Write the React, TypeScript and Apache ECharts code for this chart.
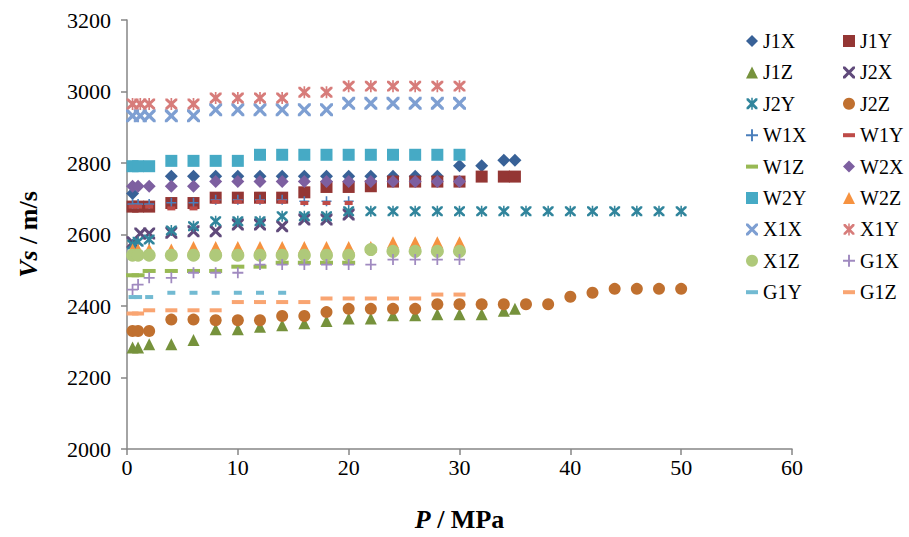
import React, { useEffect, useRef } from "react";
import * as echarts from "echarts";

// ---------- data ----------
const J1X_P = [0.5, 4, 6, 8, 10, 12, 14, 16, 18, 20, 22, 24, 26, 28, 30, 32, 34, 35];
const J1X_V = [2715, 2763, 2763, 2763, 2763, 2763, 2763, 2763, 2763, 2763, 2763, 2763, 2763, 2763, 2792, 2792, 2808, 2808];

const J1Y_P = [0.5, 1, 2, 4, 6, 8, 10, 12, 14, 16, 18, 20, 22, 24, 26, 28, 30, 32, 34, 35];
const J1Y_V = [2678, 2678, 2678, 2688, 2688, 2703, 2703, 2703, 2703, 2718, 2733, 2733, 2735, 2748, 2748, 2748, 2748, 2762, 2762, 2762];

const J1Z_P = [0.5, 1, 2, 4, 6, 8, 10, 12, 14, 16, 18, 20, 22, 24, 26, 28, 30, 32, 34, 35];
const J1Z_V = [2284, 2284, 2293, 2293, 2305, 2335, 2335, 2342, 2346, 2352, 2358, 2365, 2365, 2374, 2374, 2377, 2377, 2377, 2387, 2392];

const J2X_P = [0.5, 1.2, 2, 4, 6, 8, 10, 12, 14, 16, 18, 20];
const J2X_V = [2578, 2603, 2603, 2605, 2609, 2609, 2628, 2628, 2623, 2642, 2642, 2656];

const J2Y_P = [0.5, 1, 2, 4, 6, 8, 10, 12, 14, 16, 18, 20, 22, 24, 26, 28, 30, 32, 34, 36, 38, 40, 42, 44, 46, 48, 50];
const J2Y_V = [2572, 2580, 2586, 2611, 2623, 2637, 2637, 2637, 2651, 2651, 2651, 2665, 2665, 2665, 2665, 2665, 2665, 2665, 2665, 2665, 2665, 2665, 2665, 2665, 2665, 2665, 2665];

const J2Z_P = [0.5, 1, 2, 4, 6, 8, 10, 12, 14, 16, 18, 20, 22, 24, 26, 28, 30, 32, 34, 36, 38, 40, 42, 44, 46, 48, 50];
const J2Z_V = [2330, 2330, 2330, 2362, 2362, 2360, 2360, 2360, 2372, 2372, 2383, 2392, 2392, 2392, 2392, 2405, 2405, 2405, 2405, 2405, 2405, 2426, 2437, 2448, 2448, 2448, 2448];

const W1X_P = [0.5, 1, 2, 4, 6, 8, 10, 12, 14, 16, 18, 20];
const W1X_V = [2685, 2685, 2685, 2689, 2689, 2697, 2697, 2697, 2697, 2693, 2693, 2693];

const W1Y_P = [0.5, 1, 2, 4, 6, 8, 10, 12, 14, 16, 18, 20];
const W1Y_V = [2678, 2678, 2678, 2673, 2673, 2692, 2692, 2692, 2692, 2688, 2688, 2688];

const W1Z_P = [0.5, 1, 2, 4, 6, 8, 10, 12, 14, 16, 18, 20];
const W1Z_V = [2486, 2486, 2498, 2498, 2498, 2498, 2510, 2510, 2521, 2521, 2521, 2521];

const W2X_P = [0.5, 1, 2, 4, 6, 8, 10, 12, 14, 16, 18, 20, 22, 24, 26, 28, 30];
const W2X_V = [2735, 2735, 2735, 2735, 2735, 2748, 2748, 2748, 2748, 2748, 2748, 2748, 2748, 2748, 2748, 2748, 2748];

const W2Y_P = [0.5, 1, 2, 4, 6, 8, 10, 12, 14, 16, 18, 20, 22, 24, 26, 28, 30];
const W2Y_V = [2791, 2791, 2791, 2806, 2806, 2806, 2806, 2823, 2823, 2823, 2823, 2823, 2823, 2823, 2823, 2823, 2823];

const W2Z_P = [0.5, 1, 2, 4, 6, 8, 10, 12, 14, 16, 18, 20, 22, 24, 26, 28, 30];
const W2Z_V = [2558, 2558, 2558, 2558, 2565, 2565, 2565, 2565, 2565, 2565, 2565, 2565, 2565, 2578, 2578, 2578, 2578];

const X1X_P = [0.5, 1.2, 2, 4, 6, 8, 10, 12, 14, 16, 18, 20, 22, 24, 26, 28, 30];
const X1X_V = [2932, 2932, 2932, 2932, 2932, 2949, 2949, 2949, 2949, 2949, 2949, 2967, 2967, 2967, 2967, 2967, 2967];

const X1Y_P = [0.5, 1.2, 2, 4, 6, 8, 10, 12, 14, 16, 18, 20, 22, 24, 26, 28, 30];
const X1Y_V = [2965, 2965, 2965, 2965, 2965, 2982, 2982, 2982, 2982, 2998, 2998, 3015, 3015, 3015, 3015, 3015, 3015];

const X1Z_P = [0.5, 1, 2, 4, 6, 8, 10, 12, 14, 16, 18, 20, 22, 24, 26, 28, 30];
const X1Z_V = [2542, 2542, 2542, 2542, 2542, 2542, 2542, 2542, 2542, 2542, 2542, 2542, 2558, 2553, 2553, 2553, 2553];

const G1X_P = [0.5, 1, 2, 4, 6, 8, 10, 12, 14, 16, 18, 20, 22, 24, 26, 28, 30];
const G1X_V = [2446, 2460, 2479, 2479, 2493, 2493, 2493, 2516, 2516, 2516, 2516, 2516, 2516, 2530, 2530, 2530, 2530];

const G1Y_P = [0.5, 1, 2, 4, 6, 8, 10, 12, 14];
const G1Y_V = [2425, 2425, 2425, 2437, 2437, 2437, 2437, 2437, 2437];

const G1Z_P = [0.5, 1, 2, 4, 6, 8, 10, 12, 14, 16, 18, 20, 22, 24, 26, 28, 30];
const G1Z_V = [2379, 2379, 2388, 2388, 2388, 2388, 2411, 2411, 2411, 2411, 2421, 2421, 2421, 2421, 2421, 2432, 2432];

const X_TICKS = [0, 10, 20, 30, 40, 50, 60];
const Y_TICKS = [2000, 2200, 2400, 2600, 2800, 3000, 3200];

const LEGEND_LEFT = ["J1X", "J1Z", "J2Y", "W1X", "W1Z", "W2Y", "X1X", "X1Z", "G1Y"];
const LEGEND_RIGHT = ["J1Y", "J2X", "J2Z", "W1Y", "W2X", "W2Z", "X1Y", "G1X", "G1Z"];

// ---------- symbols ----------
const CROSS =
  "path://M0,0L1.8,0L5,3.2L8.2,0L10,0L10,1.8L6.8,5L10,8.2L10,10L8.2,10L5,6.8L1.8,10L0,10L0,8.2L3.2,5L0,1.8Z";
const STAR =
  "path://M0,0L1.8,0L5,3.2L8.2,0L10,0L10,1.8L6.8,5L10,8.2L10,10L8.2,10L5,6.8L1.8,10L0,10L0,8.2L3.2,5L0,1.8Z M4.3,-0.5L5.7,-0.5L5.7,10.5L4.3,10.5Z";
const PLUS = "path://M4.2,0H5.8V4.2H10V5.8H5.8V10H4.2V5.8H0V4.2H4.2Z";
const DASH = "path://M0,0H10V3.4H0Z";

const FONT = "Liberation Serif";

type S = { name: string; P: number[]; V: number[]; color: string; symbol: string; size: number | number[] };

const SERIES: S[] = [
  { name: "J1X", P: J1X_P, V: J1X_V, color: "#386197", symbol: "diamond", size: 13 },
  { name: "J1Y", P: J1Y_P, V: J1Y_V, color: "#943634", symbol: "rect", size: 12 },
  { name: "J1Z", P: J1Z_P, V: J1Z_V, color: "#76923C", symbol: "triangle", size: 12 },
  { name: "J2X", P: J2X_P, V: J2X_V, color: "#604A7B", symbol: CROSS, size: 12 },
  { name: "J2Y", P: J2Y_P, V: J2Y_V, color: "#31859C", symbol: STAR, size: 11 },
  { name: "J2Z", P: J2Z_P, V: J2Z_V, color: "#C0702F", symbol: "circle", size: 12 },
  { name: "W1X", P: W1X_P, V: W1X_V, color: "#4A7EBB", symbol: PLUS, size: 10 },
  { name: "W1Y", P: W1Y_P, V: W1Y_V, color: "#BE4B48", symbol: DASH, size: [8, 4] },
  { name: "W1Z", P: W1Z_P, V: W1Z_V, color: "#98B954", symbol: DASH, size: [13, 4] },
  { name: "W2X", P: W2X_P, V: W2X_V, color: "#7D5FA0", symbol: "diamond", size: 13 },
  { name: "W2Y", P: W2Y_P, V: W2Y_V, color: "#46AAC5", symbol: "rect", size: 12 },
  { name: "W2Z", P: W2Z_P, V: W2Z_V, color: "#F69240", symbol: "triangle", size: 12 },
  { name: "X1X", P: X1X_P, V: X1X_V, color: "#7E9FD2", symbol: CROSS, size: 13 },
  { name: "X1Y", P: X1Y_P, V: X1Y_V, color: "#D77C7A", symbol: STAR, size: 12 },
  { name: "X1Z", P: X1Z_P, V: X1Z_V, color: "#AFC97A", symbol: "circle", size: 13 },
  { name: "G1X", P: G1X_P, V: G1X_V, color: "#A08AC0", symbol: PLUS, size: 11 },
  { name: "G1Y", P: G1Y_P, V: G1Y_V, color: "#72BAD2", symbol: DASH, size: [8, 4] },
  { name: "G1Z", P: G1Z_P, V: G1Z_V, color: "#F9A572", symbol: DASH, size: [12, 4] },
];

export default function App() {
  const ref = useRef<HTMLDivElement>(null);
  useEffect(() => {
    if (!ref.current) return;
    const chart = echarts.init(ref.current, undefined, { renderer: "svg" });
    const legendCommon = {
      orient: "vertical" as const,
      top: 31,
      padding: 0,
      itemWidth: 12,
      itemHeight: 12,
      itemGap: 11.4,
      textStyle: { fontFamily: FONT, fontSize: 20, color: "#000" },
    };
    const legendData = (names: string[]) =>
      names.map((n) => {
        const s = SERIES.find((x) => x.name === n)!;
        return s.symbol === DASH ? { name: n, icon: "path://M0,0H12V4H0Z" } : { name: n };
      });
    const nameStyle = {
      fontFamily: FONT,
      fontSize: 26,
      fontWeight: "bold",
      color: "#000",
      rich: { i: { fontFamily: FONT, fontSize: 26, fontWeight: "bold", fontStyle: "italic", color: "#000" } },
    };
    chart.setOption({
      animation: false,
      textStyle: { fontFamily: FONT },
      grid: { left: 127, right: 117, top: 20, bottom: 87, containLabel: false },
      xAxis: {
        type: "value",
        min: X_TICKS[0],
        max: X_TICKS[X_TICKS.length - 1],
        interval: 10,
        name: "{i|P} / MPa",
        nameLocation: "middle",
        nameGap: 57,
        nameTextStyle: nameStyle,
        axisLine: { show: true, lineStyle: { color: "#868686", width: 1.5 } },
        axisTick: { show: true, length: 6, lineStyle: { color: "#868686", width: 1.5 } },
        axisLabel: { fontFamily: FONT, fontSize: 22, color: "#000", margin: 7, formatter: (v: number) => String(v) },
        splitLine: { show: false },
      },
      yAxis: {
        type: "value",
        min: Y_TICKS[0],
        max: Y_TICKS[Y_TICKS.length - 1],
        interval: 200,
        name: "{i|Vs} / m/s",
        nameLocation: "middle",
        nameGap: 86,
        nameRotate: 90,
        nameTextStyle: nameStyle,
        axisLine: { show: true, lineStyle: { color: "#868686", width: 1.5 } },
        axisTick: { show: true, length: 6, lineStyle: { color: "#868686", width: 1.5 } },
        axisLabel: { fontFamily: FONT, fontSize: 22, color: "#000", margin: 16, formatter: (v: number) => String(v) },
        splitLine: { show: false },
      },
      legend: [
        { ...legendCommon, left: 746, data: legendData(LEGEND_LEFT) },
        { ...legendCommon, left: 843, data: legendData(LEGEND_RIGHT) },
      ],
      series: SERIES.map((s) => ({
        name: s.name,
        type: "scatter",
        symbol: s.symbol,
        symbolSize: s.size,
        itemStyle: { color: s.color, opacity: 1 },
        emphasis: { disabled: true },
        data: s.P.map((p, i) => [p, s.V[i]]),
      })),
    });
    return () => chart.dispose();
  }, []);
  return (
    <div
      ref={ref}
      style={{ position: "absolute", left: 0, top: 0, width: 909, height: 537, background: "#fff" }}
    />
  );
}
